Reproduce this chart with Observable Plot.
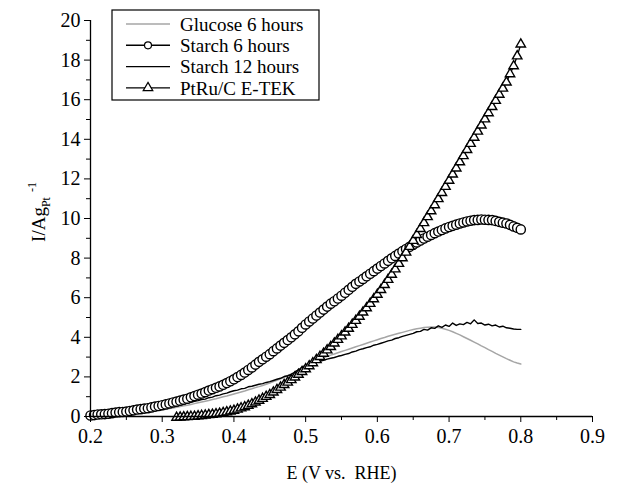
<!DOCTYPE html>
<html><head><meta charset="utf-8">
<script src="https://cdn.jsdelivr.net/npm/d3@7"></script>
<script src="https://cdn.jsdelivr.net/npm/@observablehq/plot@0.6"></script>
<style>body{margin:0;background:#fff} #chart{width:642px;height:485px}</style>
</head><body><div id="chart"></div>
<script>
// Electrode potential (V vs. RHE)
const voltage = [0.200,0.205,0.210,0.215,0.220,0.225,0.230,0.235,0.240,0.245,0.250,0.255,0.260,0.265,0.270,0.275,0.280,0.285,0.290,0.295,
0.300,0.305,0.310,0.315,0.320,0.325,0.330,0.335,0.340,0.345,0.350,0.355,0.360,0.365,0.370,0.375,0.380,0.385,0.390,0.395,
0.400,0.405,0.410,0.415,0.420,0.425,0.430,0.435,0.440,0.445,0.450,0.455,0.460,0.465,0.470,0.475,0.480,0.485,0.490,0.495,
0.500,0.505,0.510,0.515,0.520,0.525,0.530,0.535,0.540,0.545,0.550,0.555,0.560,0.565,0.570,0.575,0.580,0.585,0.590,0.595,
0.600,0.605,0.610,0.615,0.620,0.625,0.630,0.635,0.640,0.645,0.650,0.655,0.660,0.665,0.670,0.675,0.680,0.685,0.690,0.695,
0.700,0.705,0.710,0.715,0.720,0.725,0.730,0.735,0.740,0.745,0.750,0.755,0.760,0.765,0.770,0.775,0.780,0.785,0.790,0.795,0.800];

const glucose6h = [0.00,0.01,0.01,0.02,0.03,0.04,0.05,0.06,0.07,0.09,0.10,0.12,0.14,0.16,0.18,0.20,0.23,0.25,0.28,0.31,
0.34,0.37,0.40,0.43,0.47,0.50,0.54,0.57,0.61,0.65,0.69,0.73,0.77,0.81,0.86,0.90,0.95,1.00,1.04,1.09,
1.14,1.19,1.24,1.29,1.35,1.40,1.46,1.51,1.57,1.63,1.69,1.76,1.83,1.90,1.98,2.06,2.15,2.25,2.36,2.48,
2.60,2.68,2.76,2.83,2.90,2.97,3.04,3.10,3.16,3.22,3.28,3.34,3.40,3.46,3.52,3.58,3.64,3.70,3.76,3.82,
3.88,3.94,3.99,4.05,4.10,4.15,4.20,4.25,4.30,4.35,4.39,4.43,4.46,4.49,4.51,4.52,4.52,4.50,4.46,4.41,
4.35,4.28,4.20,4.12,4.03,3.94,3.85,3.76,3.67,3.57,3.48,3.38,3.29,3.19,3.10,3.01,2.92,2.84,2.76,2.70,2.65];

const starch6h = [0.05,0.07,0.10,0.11,0.12,0.14,0.17,0.20,0.22,0.23,0.25,0.28,0.31,0.35,0.37,0.40,0.42,0.46,0.50,0.53,
0.57,0.61,0.66,0.71,0.75,0.80,0.85,0.90,0.97,1.03,1.10,1.16,1.23,1.31,1.38,1.45,1.52,1.60,1.69,1.78,
1.88,1.99,2.10,2.22,2.35,2.48,2.62,2.76,2.89,3.02,3.15,3.30,3.44,3.58,3.72,3.86,4.00,4.15,4.30,4.48,
4.65,4.80,4.95,5.10,5.25,5.40,5.55,5.70,5.82,5.96,6.10,6.25,6.40,6.55,6.70,6.82,6.95,7.08,7.21,7.34,
7.47,7.60,7.73,7.86,7.99,8.11,8.23,8.35,8.46,8.57,8.68,8.79,8.89,8.99,9.08,9.17,9.26,9.34,9.42,9.50,
9.57,9.63,9.69,9.75,9.80,9.85,9.89,9.92,9.93,9.95,9.94,9.93,9.92,9.88,9.83,9.79,9.75,9.68,9.60,9.53,9.45];

const starch12h = [0.00,0.01,0.02,0.03,0.04,0.05,0.06,0.07,0.09,0.10,0.12,0.14,0.17,0.18,0.22,0.24,0.28,0.31,0.34,0.38,
0.42,0.45,0.50,0.52,0.57,0.61,0.64,0.68,0.72,0.77,0.80,0.86,0.88,0.95,0.98,1.05,1.08,1.14,1.18,1.25,
1.30,1.33,1.40,1.42,1.50,1.53,1.58,1.63,1.66,1.72,1.76,1.82,1.88,1.93,2.02,2.06,2.12,2.25,2.35,2.48,
2.58,2.62,2.70,2.74,2.80,2.84,2.90,2.94,2.98,3.04,3.08,3.14,3.18,3.26,3.30,3.38,3.42,3.48,3.52,3.60,
3.64,3.70,3.76,3.82,3.86,3.94,3.98,4.05,4.10,4.15,4.20,4.28,4.30,4.40,4.36,4.48,4.45,4.58,4.50,4.62,
4.55,4.72,4.60,4.68,4.64,4.75,4.68,4.88,4.70,4.72,4.62,4.66,4.58,4.62,4.52,4.56,4.48,4.46,4.42,4.40,4.40];

const ptruEtek = [null,null,null,null,null,null,null,null,null,null,null,null,null,null,null,null,null,null,null,null,
null,null,null,null,-0.05,-0.04,-0.03,-0.02,-0.01,0.00,0.02,0.04,0.06,0.08,0.10,0.12,0.15,0.19,0.22,0.26,
0.30,0.36,0.42,0.48,0.55,0.63,0.72,0.81,0.90,1.00,1.10,1.22,1.35,1.47,1.60,1.72,1.85,1.98,2.12,2.26,
2.40,2.55,2.70,2.86,3.02,3.18,3.35,3.52,3.70,3.88,4.06,4.25,4.44,4.64,4.84,5.05,5.26,5.48,5.70,5.93,
6.16,6.40,6.65,6.91,7.17,7.44,7.72,8.00,8.29,8.58,8.88,9.18,9.48,9.78,10.08,10.38,10.68,10.99,11.30,11.61,
11.92,12.23,12.54,12.85,13.16,13.47,13.78,14.09,14.40,14.71,15.02,15.33,15.64,15.95,16.26,16.57,16.88,17.30,17.70,18.20,18.80];

const seriesNames = ["Glucose 6 hours", "Starch 6 hours", "Starch 12 hours", "PtRu/C E-TEK"];
const xTicks = [0.2, 0.3, 0.4, 0.5, 0.6, 0.7, 0.8, 0.9];
const xMinorTicks = [0.25, 0.35, 0.45, 0.55, 0.65, 0.75, 0.85];
const yTicks = [0, 2, 4, 6, 8, 10, 12, 14, 16, 18, 20];
const yMinorTicks = [1, 3, 5, 7, 9, 11, 13, 15, 17, 19];
const xLabel = "E (V vs.\u00a0 RHE)";

const rows = (vals, name) => voltage.map((E, i) => ({E, I: vals[i], series: name})).filter(d => d.I != null);
const gData = rows(glucose6h, seriesNames[0]);
const s6Data = rows(starch6h, seriesNames[1]);
const s12Data = rows(starch12h, seriesNames[2]);
const pData = rows(ptruEtek, seriesNames[3]);

const FONT = "Liberation Serif, Times New Roman, serif";
const GRAY = "#a6a6a6";

const plot = Plot.plot({
  width: 642, height: 485,
  marginLeft: 90, marginRight: 50, marginTop: 20, marginBottom: 69,
  style: {fontFamily: FONT, fontSize: "20px", color: "black", background: "white"},
  x: {domain: [0.2, 0.9]},
  y: {domain: [0, 20]},
  marks: [
    Plot.line(gData, {x: "E", y: "I", stroke: GRAY, strokeWidth: 1.5}),
    Plot.line(s12Data, {x: "E", y: "I", stroke: "black", strokeWidth: 1.4}),
    Plot.line(s6Data, {x: "E", y: "I", stroke: "black", strokeWidth: 1.3}),
    Plot.dot(s6Data, {x: "E", y: "I", r: 4.6, fill: "white", stroke: "black", strokeWidth: 1.4}),
    Plot.line(pData, {x: "E", y: "I", stroke: "black", strokeWidth: 1.3}),
    Plot.dot(pData, {x: "E", y: "I", symbol: "triangle", r: 3.5, fill: "white", stroke: "black", strokeWidth: 1.4}),
    Plot.ruleY([0], {x1: 0.2, x2: 0.9, stroke: "black", strokeWidth: 1.3}),
    Plot.ruleX([0.2], {y1: 0, y2: 20, stroke: "black", strokeWidth: 1.3}),
    Plot.axisX(xTicks, {tickSize: 6, tickPadding: 6, tickFormat: d3.format(".1f"),
      label: xLabel, labelAnchor: "center", labelArrow: "none", labelOffset: 62}),
    Plot.axisX(xMinorTicks, {tickSize: 4, tickFormat: () => "", label: null}),
    Plot.axisY(yTicks, {tickSize: 6, tickPadding: 4, label: null}),
    Plot.axisY(yMinorTicks, {tickSize: 4, tickFormat: () => "", label: null})
  ]
});
document.getElementById("chart").appendChild(plot);

const svg = d3.select(plot);
svg.selectAll("g[aria-label='x-axis tick label'], g[aria-label='y-axis tick label']").attr("font-size", 20);
svg.selectAll("g[aria-label='x-axis label']").attr("font-size", 18);

// y-axis title with subscript / superscript
const yl = svg.append("text")
  .attr("transform", "translate(45,212) rotate(-90)")
  .attr("text-anchor", "middle")
  .attr("font-family", FONT).attr("font-size", 19).attr("fill", "black");
yl.append("tspan").text("I/Ag");
yl.append("tspan").attr("dy", 5).attr("font-size", 12).text("Pt");
yl.append("tspan").attr("dy", -14).attr("dx", 5).attr("font-size", 12).text("-1");

// legend
const lg = svg.append("g").attr("font-family", FONT).attr("font-size", 19).attr("text-anchor", "start");
const L = {x: 112, y: 10, w: 207, h: 90, row: 21.3, first: 14};
lg.append("rect").attr("x", L.x).attr("y", L.y).attr("width", L.w).attr("height", L.h)
  .attr("fill", "white").attr("stroke", "black").attr("stroke-width", 1.2);
const legendStyle = [
  {stroke: GRAY, marker: null},
  {stroke: "black", marker: "circle"},
  {stroke: "black", marker: null},
  {stroke: "black", marker: "triangle"}
];
seriesNames.forEach((name, i) => {
  const yy = L.y + L.first + i * L.row;
  lg.append("line").attr("x1", 126).attr("x2", 170).attr("y1", yy).attr("y2", yy)
    .attr("stroke", legendStyle[i].stroke).attr("stroke-width", 1.4);
  if (legendStyle[i].marker === "circle") {
    lg.append("circle").attr("cx", 148).attr("cy", yy).attr("r", 3.5).attr("fill", "white").attr("stroke", "black").attr("stroke-width", 1.2);
  } else if (legendStyle[i].marker === "triangle") {
    lg.append("path").attr("d", d3.symbol(d3.symbolTriangle, 40)()).attr("transform", `translate(148,${yy})`)
      .attr("fill", "white").attr("stroke", "black").attr("stroke-width", 1.2);
  }
  lg.append("text").attr("x", 180).attr("y", yy).attr("dy", "0.35em").attr("fill", "black").text(name);
});
</script>
</body></html>
